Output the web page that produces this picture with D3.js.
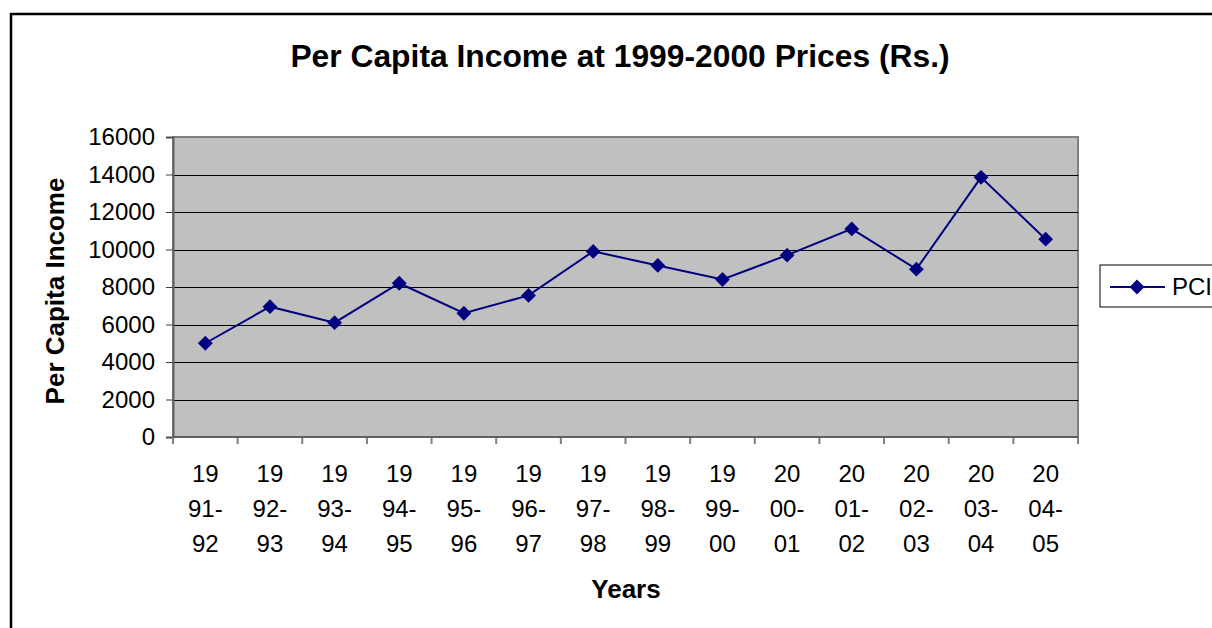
<!DOCTYPE html>
<html>
<head>
<meta charset="utf-8">
<script src="https://cdn.jsdelivr.net/npm/d3@7"></script>
<style>
  html, body { margin: 0; padding: 0; background: #fff; }
  text { font-family: "Liberation Sans", Arial, sans-serif; fill: #000; }
</style>
</head>
<body>
<div id="chart"></div>
<script>
// Per capita income data
var years = ["1991-92", "1992-93", "1993-94", "1994-95", "1995-96", "1996-97", "1997-98",
             "1998-99", "1999-00", "2000-01", "2001-02", "2002-03", "2003-04", "2004-05"];
var pci = [5000, 6950, 6100, 8200, 6600, 7550, 9900, 9150, 8400, 9700, 11100, 8950, 13850, 10550];
var yTicks = [0, 2000, 4000, 6000, 8000, 10000, 12000, 14000, 16000];

var W = 1212, H = 628;
var plot = { left: 173, top: 137, right: 1078, bottom: 437 };

var svg = d3.select("#chart").append("svg")
    .attr("width", W)
    .attr("height", H);

// chart border
svg.append("rect")
    .attr("x", 11)
    .attr("y", 14)
    .attr("width", W + 20)
    .attr("height", H + 20)
    .style("fill", "#fff")
    .style("stroke", "#000")
    .style("stroke-width", 2.5);

var x = d3.scaleBand()
    .domain(years)
    .range([plot.left, plot.right]);

var y = d3.scaleLinear()
    .domain([0, 16000])
    .range([plot.bottom, plot.top]);

// plot background
svg.append("rect")
    .attr("x", plot.left)
    .attr("y", plot.top)
    .attr("width", plot.right - plot.left)
    .attr("height", plot.bottom - plot.top)
    .style("fill", "#c0c0c0")
    .style("stroke", "#808080")
    .style("stroke-width", 2);

// gridlines
svg.append("g")
  .selectAll("line")
    .data(yTicks.filter(function(d) { return d > 0 && d < 16000; }))
  .enter().append("line")
    .attr("x1", plot.left)
    .attr("x2", plot.right)
    .attr("y1", function(d) { return Math.round(y(d)) + 0.5; })
    .attr("y2", function(d) { return Math.round(y(d)) + 0.5; })
    .style("stroke", "#000")
    .style("stroke-width", 1);

// y axis
var yAxis = svg.append("g")
    .attr("transform", "translate(" + plot.left + ",0)")
    .call(d3.axisLeft(y).tickValues(yTicks).tickSize(7).tickPadding(11).tickFormat(d3.format("d")));
yAxis.select(".domain").style("stroke", "#606060").style("stroke-width", 2);
yAxis.selectAll(".tick line").style("stroke", "#404040");
yAxis.selectAll("text")
    .style("font-size", "24px")
    .style("font-family", "Liberation Sans, Arial, sans-serif");

// x axis ticks at category boundaries
var xTickPos = years.map(function(d) { return x(d); }).concat([plot.right]);
svg.append("g")
  .selectAll("line")
    .data(xTickPos)
  .enter().append("line")
    .attr("x1", function(d) { return d; })
    .attr("x2", function(d) { return d; })
    .attr("y1", plot.bottom)
    .attr("y2", plot.bottom + 7)
    .style("stroke", "#808080")
    .style("stroke-width", 2);

svg.append("line")
    .attr("x1", plot.left)
    .attr("x2", plot.right)
    .attr("y1", plot.bottom)
    .attr("y2", plot.bottom)
    .style("stroke", "#606060")
    .style("stroke-width", 2);

// x labels, wrapped like the original
var xLabels = svg.append("g")
  .selectAll("text")
    .data(years)
  .enter().append("text")
    .attr("x", function(d) { return x(d) + x.bandwidth() / 2; })
    .attr("y", 482)
    .style("text-anchor", "middle")
    .style("font-size", "24px");

xLabels.each(function(d) {
  var parts = [d.slice(0, 2), d.slice(2, 5), d.slice(5)];
  var t = d3.select(this);
  parts.forEach(function(p, i) {
    t.append("tspan")
      .attr("x", x(d) + x.bandwidth() / 2)
      .attr("dy", i === 0 ? 0 : 35)
      .text(p);
  });
});

// line + markers
var line = d3.line()
    .x(function(d, i) { return x(years[i]) + x.bandwidth() / 2; })
    .y(function(d) { return y(d); });

svg.append("path")
    .datum(pci)
    .attr("d", line)
    .style("fill", "none")
    .style("stroke", "#000080")
    .style("stroke-width", 2);

var diamond = d3.symbol().type(d3.symbolDiamond2).size(140);

svg.append("g")
  .selectAll("path")
    .data(pci)
  .enter().append("path")
    .attr("transform", function(d, i) {
      return "translate(" + (x(years[i]) + x.bandwidth() / 2) + "," + y(d) + ")";
    })
    .attr("d", diamond)
    .style("fill", "#000080");

// titles
svg.append("text")
    .attr("x", 620)
    .attr("y", 67)
    .style("text-anchor", "middle")
    .style("font-size", "31.8px")
    .style("font-weight", "bold")
    .text("Per Capita Income at 1999-2000 Prices (Rs.)");

svg.append("text")
    .attr("transform", "translate(64," + ((plot.top + plot.bottom) / 2 + 4) + ") rotate(-90)")
    .style("text-anchor", "middle")
    .style("font-size", "26px")
    .style("font-weight", "bold")
    .text("Per Capita Income");

svg.append("text")
    .attr("x", 626)
    .attr("y", 598)
    .style("text-anchor", "middle")
    .style("font-size", "26px")
    .style("font-weight", "bold")
    .text("Years");

// legend
var legend = svg.append("g").attr("transform", "translate(1100,265)");
legend.append("rect")
    .attr("width", 140)
    .attr("height", 42)
    .style("fill", "#fff")
    .style("stroke", "#000")
    .style("stroke-width", 1);
legend.append("line")
    .attr("x1", 10).attr("x2", 65)
    .attr("y1", 22).attr("y2", 22)
    .style("stroke", "#000080")
    .style("stroke-width", 2);
legend.append("path")
    .attr("transform", "translate(37,22)")
    .attr("d", diamond)
    .style("fill", "#000080");
legend.append("text")
    .attr("x", 72)
    .attr("y", 30)
    .style("font-size", "24px")
    .text("PCI");
</script>
</body>
</html>
